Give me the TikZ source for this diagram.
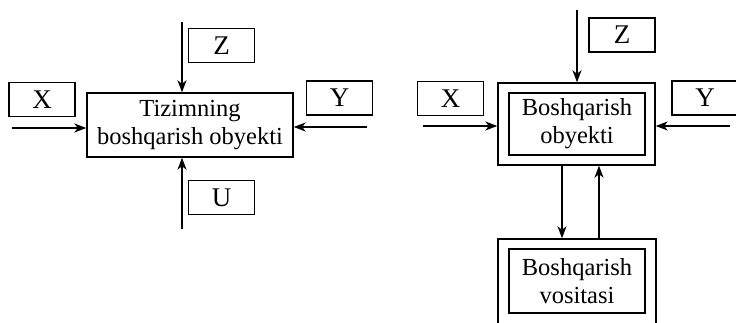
\documentclass[tikz,border=0pt]{standalone}
\usepackage{fontspec}
\setmainfont{Liberation Serif}
\usetikzlibrary{positioning, arrows.meta}

\begin{document}
\begin{tikzpicture}[x=1pt, y=-1pt, line width=1.4pt,
  >={Stealth[length=12pt, width=9pt, inset=3.5pt]},
  blk/.style={draw, rectangle, inner sep=0pt, align=center, font=\fontsize{24.5}{28}\selectfont},
  lab/.style={draw, rectangle, inner sep=0pt, minimum width=66pt, minimum height=34pt, font=\fontsize{27}{28}\selectfont}]

\useasboundingbox (0,0) rectangle (736,323);

% left diagram
\node[blk, minimum width=206pt, minimum height=64pt] (tobj) at (190,125) {Tizimning\\boshqarish obyekti};
\node[lab] (lx) at (42,99.5) {X};
\node[lab] (lz) at (221.5,45.5) {Z};
\node[lab] (ly) at (339.5,98) {Y};
\node[lab] (lu) at (221.5,197.5) {U};

\coordinate (lxin) at (12,128);
\coordinate (lzin) at (182,22);
\coordinate (lyin) at (367,127);
\coordinate (luin) at (182,229);

\draw[->] (lxin) -- (tobj.west |- lxin);
\draw[->] (lzin) -- (tobj.north -| lzin);
\draw[->] (lyin) -- (tobj.east |- lyin);
\draw[->] (luin) -- (tobj.south -| luin);

% right diagram
\node[blk, minimum width=157pt, minimum height=82pt] (obj) at (576.5,124) {};
\node[blk, minimum width=136pt, minimum height=62pt] (objin) at (577,124) {Boshqarish\\obyekti};
\node[blk, minimum width=158pt, minimum height=85pt] (vos) at (577,281.5) {};
\node[blk, minimum width=136pt, minimum height=64pt] (vosin) at (577,281) {Boshqarish\\vositasi};

\node[lab] (rx) at (450.5,98.5) {X};
\node[lab] (rz) at (622,35) {Z};
\node[lab] (ry) at (705,98) {Y};

\coordinate (rxin) at (423,126);
\coordinate (rzin) at (577,10);
\coordinate (ryin) at (730,126);
\coordinate (rdown) at (562,200);
\coordinate (rup) at (599,200);

\draw[->] (rxin) -- (obj.west |- rxin);
\draw[->] (rzin) -- (obj.north -| rzin);
\draw[->] (ryin) -- (obj.east |- ryin);
\draw[->] (obj.south -| rdown) -- (vos.north -| rdown);
\draw[->] (vos.north -| rup) -- (obj.south -| rup);

\end{tikzpicture}
\end{document}
